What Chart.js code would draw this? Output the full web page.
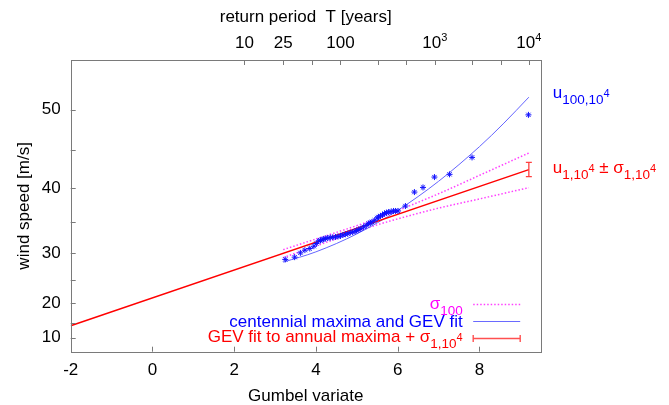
<!DOCTYPE html>
<html>
<head>
<meta charset="utf-8">
<title>Wind speed return levels</title>
<script src="https://cdn.jsdelivr.net/npm/chart.js@4.4.1/dist/chart.umd.min.js"></script>
<style>
  body { margin: 0; background: #fff; }
  #wrap { width: 669px; height: 405px; }
</style>
</head>
<body>
<div id="wrap"><canvas id="grafico" width="669" height="405"></canvas></div>
<script>
// ticks
var xTicks = [-2, 0, 2, 4, 6, 8];
var yMajor = [10, 20, 30, 40, 50];
var yMinor = [15, 25, 35, 45];
var returnPeriods = [10, 25, 50, 100, 250, 500, 1000, 2500, 5000, 10000];
var returnLabels = { 10: ['10'], 25: ['25'], 100: ['100'], 1000: ['10', '3'], 10000: ['10', '4'] };

// GEV fit to annual maxima
var gevX = [-2, 9.21];
var gevU = [14.1, 42.5];

// sigma_100 band
var bandX = [3.2, 4.0, 5.0, 5.5, 6.0, 7.0, 8.0, 9.21];
var bandHigh = [30.57, 32.34, 34.47, 35.58, 36.76, 39.19, 41.73, 44.67];
var bandLow = [29.19, 31.19, 33.53, 34.59, 35.51, 37.12, 38.45, 40.05];

// GEV fit to the centennial maxima
var centFitX = [3.2, 4.0, 5.0, 6.0, 7.0, 8.0, 8.6, 9.21];
var centFitU = [28.38, 30.19, 33.16, 36.78, 40.92, 45.47, 48.38, 51.44];

// centennial maxima
var maxX = [3.25, 3.48, 3.62, 3.73, 3.85, 3.95, 4.01, 4.07, 4.11, 4.15, 4.19, 4.23, 4.29, 4.35, 4.41, 4.48, 4.54,
            4.60, 4.66, 4.72, 4.78, 4.84, 4.90, 4.96, 5.00, 5.05, 5.10, 5.17, 5.23, 5.29, 5.33, 5.37, 5.44, 5.50,
            5.53, 5.58, 5.63, 5.68, 5.73, 5.78, 5.84, 5.90, 5.95, 6.01, 6.19, 6.41, 6.62, 6.90, 7.27, 7.82, 9.20];
var maxU = [28.87, 29.27, 30.01, 30.48, 30.76, 31.15, 31.6, 32.03, 32.1, 32.25, 32.3, 32.42, 32.5, 32.58, 32.6, 32.68, 32.75,
            32.84, 33.0, 33.11, 33.2, 33.39, 33.45, 33.59, 33.7, 33.86, 34.0, 34.27, 34.5, 34.80, 34.9, 35.05, 35.3, 35.65,
            35.8, 35.96, 36.1, 36.32, 36.45, 36.55, 36.6, 36.70, 36.7, 36.70, 37.43, 39.43, 40.08, 41.50, 41.87, 44.10, 49.37];

// u_1,10^4 and its sigma
var u1e4 = 42.5;
var sigma1e4 = 0.95;

var POTENCIA = 1.75;
var FONTE = '"Liberation Sans", Arial, sans-serif';

function gumbel(T) {
    return -Math.log(-Math.log(1 - 1 / T));
}

function pares(xs, ys) {
    return xs.map(function (x, i) { return { x: x, y: ys[i] }; });
}

// eixo vertical em u^1.75
class PowerScale extends Chart.LinearScale {
    configure() {
        super.configure();
        this._p0 = Math.pow(this.min, POTENCIA);
        this._pRange = Math.pow(this.max, POTENCIA) - this._p0;
    }
    getPixelForValue(v) {
        return this.getPixelForDecimal((Math.pow(v, POTENCIA) - this._p0) / this._pRange);
    }
    getValueForPixel(px) {
        return Math.pow(this._p0 + this.getDecimalForPixel(px) * this._pRange, 1 / POTENCIA);
    }
}
PowerScale.id = 'power';
PowerScale.defaults = {};
Chart.register(PowerScale);

// texto com indices: ['texto', tipo]
var estilos = { '': [17, 0], sub: [13.5, 6], subsup: [11, -1], sup: [11, -7] };

function larguraRica(ctx, partes) {
    var w = 0;
    partes.forEach(function (p) {
        ctx.font = estilos[p[1]][0] + 'px ' + FONTE;
        w += ctx.measureText(p[0]).width;
    });
    return w;
}

function textoRico(ctx, partes, x, y, alinhar, cor) {
    var w = larguraRica(ctx, partes);
    var cx = alinhar == 'right' ? x - w : (alinhar == 'center' ? x - w / 2 : x);
    ctx.fillStyle = cor;
    ctx.textAlign = 'left';
    ctx.textBaseline = 'alphabetic';
    partes.forEach(function (p) {
        var e = estilos[p[1]];
        ctx.font = e[0] + 'px ' + FONTE;
        ctx.fillText(p[0], cx, y + e[1]);
        cx += ctx.measureText(p[0]).width;
    });
}

// moldura e ticks para dentro
var moldura = {
    id: 'moldura',
    afterDatasetsDraw: function (chart) {
        var ctx = chart.ctx;
        var a = chart.chartArea;
        var sx = chart.scales.x, sy = chart.scales.y;
        ctx.save();
        ctx.strokeStyle = '#7a7a7a';
        ctx.lineWidth = 1;
        ctx.strokeRect(Math.round(a.left) + 0.5, Math.round(a.top) + 0.5,
                       Math.round(a.right - a.left), Math.round(a.bottom - a.top));
        ctx.beginPath();
        yMajor.concat(yMinor).forEach(function (v) {
            var py = Math.round(sy.getPixelForValue(v)) + 0.5;
            ctx.moveTo(a.left, py);
            ctx.lineTo(a.left + 5, py);
        });
        xTicks.forEach(function (v) {
            var px = Math.round(sx.getPixelForValue(v)) + 0.5;
            ctx.moveTo(px, a.bottom);
            ctx.lineTo(px, a.bottom - 5);
        });
        returnPeriods.forEach(function (T) {
            var px = Math.round(sx.getPixelForValue(gumbel(T))) + 0.5;
            ctx.moveTo(px, a.top);
            ctx.lineTo(px, a.top + 5);
        });
        ctx.stroke();
        ctx.restore();
    }
};

// eixo de periodo de retorno, rotulos da direita e legenda
var textos = {
    id: 'textos',
    afterDraw: function (chart) {
        var ctx = chart.ctx;
        var a = chart.chartArea;
        var sx = chart.scales.x, sy = chart.scales.y;
        ctx.save();

        textoRico(ctx, [['return period  T [years]', '']], (a.left + a.right) / 2, 22, 'center', '#000');
        returnPeriods.forEach(function (T) {
            var r = returnLabels[T];
            if (!r) return;
            var partes = [[r[0], '']];
            if (r[1]) partes.push([r[1], 'sup']);
            textoRico(ctx, partes, sx.getPixelForValue(gumbel(T)), 48, 'center', '#000');
        });

        var xr = a.right + 12;
        var yAzul = sy.getPixelForValue(centFitU[centFitU.length - 1]) + 1;
        textoRico(ctx, [['u', ''], ['100,10', 'sub'], ['4', 'subsup']], xr, yAzul, 'left', '#0000ff');
        var yVerm = sy.getPixelForValue(u1e4) + 3.5;
        textoRico(ctx, [['u', ''], ['1,10', 'sub'], ['4', 'subsup'], [' \u00b1 \u03c3', ''], ['1,10', 'sub'], ['4', 'subsup']],
                  xr, yVerm, 'left', '#ff0000');

        // legenda
        var tx = a.right - 78;
        var l0 = a.right - 67.5, l1 = a.right - 20.5;
        textoRico(ctx, [['\u03c3', ''], ['100', 'sub']], tx, 308.5, 'right', '#ff00ff');
        textoRico(ctx, [['centennial maxima and GEV fit', '']], tx, 326.5, 'right', '#0000ff');
        textoRico(ctx, [['GEV fit to annual maxima + \u03c3', ''], ['1,10', 'sub'], ['4', 'subsup']], tx, 342, 'right', '#ff0000');

        ctx.lineWidth = 1.5;
        ctx.strokeStyle = '#ff40ff';
        ctx.setLineDash([1.5, 2]);
        ctx.beginPath(); ctx.moveTo(l0, 304.5); ctx.lineTo(l1, 304.5); ctx.stroke();
        ctx.setLineDash([]);
        ctx.lineWidth = 1;
        ctx.strokeStyle = '#6a6aff';
        ctx.beginPath(); ctx.moveTo(l0, 321.5); ctx.lineTo(l1, 321.5); ctx.stroke();
        ctx.lineWidth = 1.4;
        ctx.strokeStyle = '#ff5050';
        ctx.beginPath();
        ctx.moveTo(l0, 338.5); ctx.lineTo(l1, 338.5);
        ctx.moveTo(l0, 335); ctx.lineTo(l0, 342);
        ctx.moveTo(l1, 335); ctx.lineTo(l1, 342);
        ctx.stroke();
        ctx.restore();
    }
};

var grafico = new Chart(document.getElementById('grafico'), {
    type: 'scatter',
    data: {
        datasets: [
            {
                label: 'centennial maxima',
                data: pares(maxX, maxU),
                pointStyle: 'star',
                pointRadius: 3,
                borderColor: '#1010ff',
                backgroundColor: '#1010ff',
                borderWidth: 1,
                showLine: false
            },
            {
                label: 'u_1,10^4 +- sigma',
                data: [{ x: gevX[1], y: u1e4 - sigma1e4 }, { x: gevX[1], y: u1e4 + sigma1e4 }],
                showLine: true,
                pointStyle: 'line',
                pointRadius: 3,
                borderColor: '#ff4040',
                borderWidth: 1.3
            },
            {
                label: 'GEV fit to annual maxima',
                data: pares(gevX, gevU),
                showLine: true,
                pointRadius: 0,
                borderColor: '#ff0000',
                borderWidth: 1.5
            },
            {
                label: 'GEV fit centennial',
                data: pares(centFitX, centFitU),
                showLine: true,
                pointRadius: 0,
                borderColor: '#6464ff',
                borderWidth: 1,
                cubicInterpolationMode: 'monotone'
            },
            {
                label: 'sigma100 +',
                data: pares(bandX, bandHigh),
                showLine: true,
                pointRadius: 0,
                borderColor: '#ff40ff',
                borderWidth: 1.5,
                borderDash: [1.5, 2],
                cubicInterpolationMode: 'monotone'
            },
            {
                label: 'sigma100 -',
                data: pares(bandX, bandLow),
                showLine: true,
                pointRadius: 0,
                borderColor: '#ff40ff',
                borderWidth: 1.5,
                borderDash: [1.5, 2],
                cubicInterpolationMode: 'monotone'
            }
        ]
    },
    options: {
        responsive: false,
        devicePixelRatio: 1,
        animation: false,
        layout: { padding: { top: 60, right: 128.3, left: 0, bottom: 0 } },
        plugins: { legend: { display: false }, tooltip: { enabled: false } },
        scales: {
            x: {
                type: 'linear',
                min: -2,
                max: 9.5,
                grid: { display: false, drawTicks: false },
                border: { display: false },
                afterBuildTicks: function (s) { s.ticks = xTicks.map(function (v) { return { value: v }; }); },
                afterFit: function (s) { s.height = 53.3; },
                ticks: { padding: 10, color: '#000', font: { family: FONTE, size: 17, lineHeight: 1 }, maxRotation: 0, autoSkip: false },
                title: { display: true, text: 'Gumbel variate', color: '#000', font: { family: FONTE, size: 17, lineHeight: 1 }, padding: 0 }
            },
            y: {
                type: 'power',
                min: 1.5,
                max: 55.6,
                grid: { display: false, drawTicks: false },
                border: { display: false },
                afterBuildTicks: function (s) { s.ticks = yMajor.concat(yMinor).map(function (v) { return { value: v }; }); },
                afterFit: function (s) { s.width = 70.7; },
                ticks: {
                    padding: 10, color: '#000', autoSkip: false,
                    font: { family: FONTE, size: 17, lineHeight: 1 },
                    callback: function (v) { return yMajor.indexOf(v) >= 0 ? String(v) : ''; }
                },
                title: { display: true, text: 'wind speed [m/s]', color: '#000', font: { family: FONTE, size: 17, lineHeight: 1 }, padding: { top: 15.5, bottom: 0 } }
            }
        }
    },
    plugins: [moldura, textos]
});
</script>
</body>
</html>
